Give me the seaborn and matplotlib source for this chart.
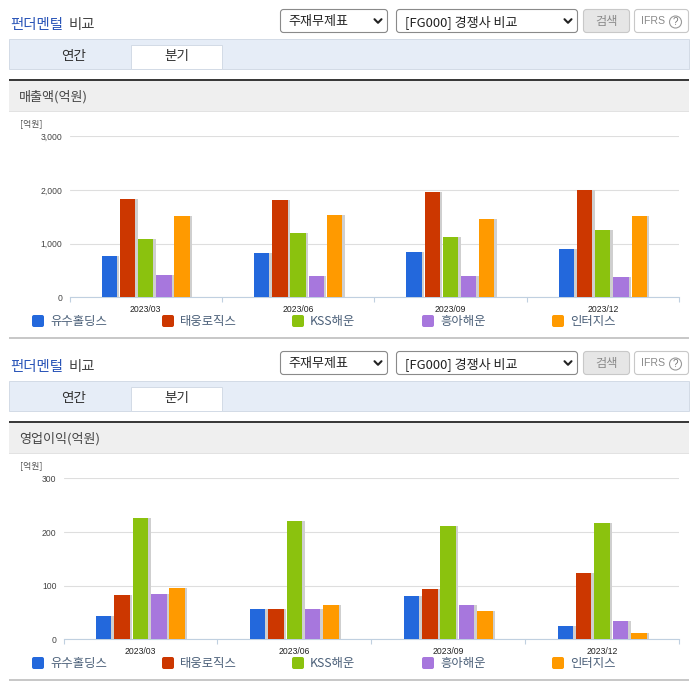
import matplotlib
matplotlib.use("Agg")
import matplotlib.pyplot as plt
import matplotlib.patheffects as pe
from matplotlib.patches import Rectangle, FancyBboxPatch, Circle
import pandas as pd
import seaborn as sns

quarters = ["2023/03", "2023/06", "2023/09", "2023/12"]
companies = ["유수홀딩스", "태웅로직스", "KSS해운", "흥아해운", "인터지스"]
colors = ["#2368DC", "#CC3700", "#8BC20E", "#A777DD", "#FF9A00"]

sales_yusu = [780, 835, 845, 905]
sales_taewoong = [1840, 1815, 1965, 2005]
sales_kss = [1080, 1200, 1125, 1255]
sales_heung = [425, 400, 400, 380]
sales_inter = [1520, 1535, 1460, 1520]

op_yusu = [44, 57, 80, 25]
op_taewoong = [83, 57, 93, 124]
op_kss = [227, 221, 211, 216]
op_heung = [85, 57, 65, 35]
op_inter = [96, 65, 53, 12]

sales_ticks = [0, 1000, 2000, 3000]
op_ticks = [0, 100, 200, 300]

KR = ["Noto Sans CJK KR", "DejaVu Sans"]
W, H = 696, 684
sns.set_theme(style="white")
plt.rcParams["font.family"] = KR

fig = plt.figure(figsize=(W / 100, H / 100), dpi=100, facecolor="white")
bg = fig.add_axes([0, 0, 1, 1], zorder=0)
bg.set_xlim(0, W)
bg.set_ylim(H, 0)
bg.axis("off")


def rect(x0, y0, x1, y1, fc, ec="none", lw=0.0):
    bg.add_patch(Rectangle((x0, y0), x1 - x0, y1 - y0, fc=fc, ec=ec, lw=lw))


def rrect(x0, y0, x1, y1, fc, ec, r=3, lw=0.8):
    bg.add_patch(FancyBboxPatch((x0, y0), x1 - x0, y1 - y0,
                                boxstyle=f"round,pad=0,rounding_size={r}",
                                fc=fc, ec=ec, lw=lw))


def chevron(x, y):
    bg.plot([x - 3.5, x, x + 3.5], [y - 1.8, y + 1.8, y - 1.8], color="#222222", lw=1.5)


def chrome(dy, section):
    bg.text(10, 25 + dy, "펀더멘털", fontsize=10.4, fontweight="medium", color="#2A55B8", va="center")
    bg.text(69, 25 + dy, "비교", fontsize=10.4, color="#444444", va="center")
    rrect(280.5, 9.5 + dy, 387.5, 32.5 + dy, "white", "#8a8a8a")
    bg.text(288, 22 + dy, "주재무제표", fontsize=9.4, color="#222222", va="center")
    chevron(378, 21 + dy)
    rrect(396.5, 9.5 + dy, 577.5, 32.5 + dy, "white", "#8a8a8a")
    bg.text(405, 22 + dy, "[FG000] 경쟁사 비교", fontsize=9.4, color="#222222", va="center")
    chevron(568, 21 + dy)
    rrect(583.5, 9.5 + dy, 629.5, 32.5 + dy, "#E6E6E6", "#C8C8C8")
    bg.text(606.5, 21 + dy, "검색", fontsize=8.8, color="#8A8A8A", va="center", ha="center")
    rrect(634.5, 9.5 + dy, 688.5, 32.5 + dy, "white", "#C8C8C8")
    bg.text(641, 21 + dy, "IFRS", fontsize=7.6, color="#8A8A8A", va="center", family="Liberation Sans")
    bg.add_patch(Circle((675.5, 22 + dy), 6, fc="white", ec="#9A9A9A", lw=0.8))
    bg.text(675.5, 22 + dy, "?", fontsize=7, color="#777777", va="center", ha="center", family="Liberation Sans")

    rect(9, 39 + dy, 689, 68.5 + dy, "#E6EDF7", "#D3DBE6", 0.7)
    rect(130.8, 44.5 + dy, 221.8, 68.5 + dy, "white", "#D3DBE6", 0.7)
    bg.text(74, 56 + dy, "연간", fontsize=9.8, color="#333333", va="center", ha="center")
    bg.text(177, 56 + dy, "분기", fontsize=9.8, color="#333333", va="center", ha="center")

    rect(9, 81 + dy, 689, 111 + dy, "#EFEFEF")
    rect(9, 79 + dy, 689, 81 + dy, "#3A3A3A")
    rect(9, 111 + dy, 689, 112 + dy, "#E2E2E2")
    bg.text(19, 97 + dy, section, fontsize=9.4, color="#444444", va="center")
    bg.text(20, 124 + dy, "[억원]", fontsize=6.4, color="#555555", va="center")

    for x, name, col in zip([32, 162, 292, 422, 552], companies, colors):
        rrect(x, 315 + dy, x + 12, 327 + dy, col, col, r=2, lw=0)
        bg.text(x + 18, 322 + dy, name, fontsize=8.9, color="#4A5F78", va="center")
    rect(9, 336.7 + dy, 689, 338.7 + dy, "#C8C8C8")


def chart(x0, dy, series, ticks, ymax):
    x1, ytop, ybot = 679.0, 136.4 + dy, 297.4 + dy
    ax = fig.add_axes([x0 / W, 1 - ybot / H, (x1 - x0) / W, (ybot - ytop) / H], zorder=2)
    ax.patch.set_alpha(0)
    df = pd.DataFrame(series, index=quarters, columns=companies)
    df = df.rename_axis("quarter").reset_index().melt("quarter", var_name="company", value_name="value")
    sns.barplot(data=df, x="quarter", y="value", hue="company", hue_order=companies,
                palette=colors, width=0.597, gap=0.16, saturation=1, legend=False, ax=ax,
                zorder=3, linewidth=0, edgecolor="none")
    for p in ax.patches:
        p.set_path_effects([pe.SimplePatchShadow(offset=(1.8, 0), shadow_rgbFace="#CFCFCF", alpha=1.0),
                            pe.Normal()])
    ax.set_xlim(-0.5, 3.5)
    ax.set_ylim(0, ymax)
    ax.set_xlabel("")
    ax.set_ylabel("")
    ax.set_yticks(ticks)
    ax.set_yticklabels([f"{v:,}" for v in ticks], fontsize=6.2, color="#444444", family="Liberation Sans")
    ax.set_xticks(range(len(quarters)))
    ax.set_xticklabels(quarters, fontsize=6.2, color="#222222", family="Liberation Sans")
    ax.set_xticks([-0.5, 0.5, 1.5, 2.5, 3.5], minor=True)
    ax.tick_params(axis="x", which="major", length=0, pad=5.5)
    ax.tick_params(axis="x", which="minor", length=3.5, width=0.8, color="#C0D0E0", bottom=True)
    ax.tick_params(axis="y", length=0, pad=5)
    ax.yaxis.grid(True, color="#DEDEDE", lw=0.8, zorder=0)
    ax.xaxis.grid(False)
    ax.set_axisbelow(True)
    for s in ["top", "right", "left"]:
        ax.spines[s].set_visible(False)
    ax.spines["bottom"].set_color("#C0D0E0")
    ax.spines["bottom"].set_linewidth(0.8)
    return ax


chrome(0, "매출액(억원)")
chrome(342, "영업이익(억원)")
sales = list(zip(sales_yusu, sales_taewoong, sales_kss, sales_heung, sales_inter))
ops = list(zip(op_yusu, op_taewoong, op_kss, op_heung, op_inter))
chart(69.5, 0, sales, sales_ticks, 3000)
chart(63.5, 342, ops, op_ticks, 300)

fig.savefig("out.png", dpi=100, facecolor="white")
